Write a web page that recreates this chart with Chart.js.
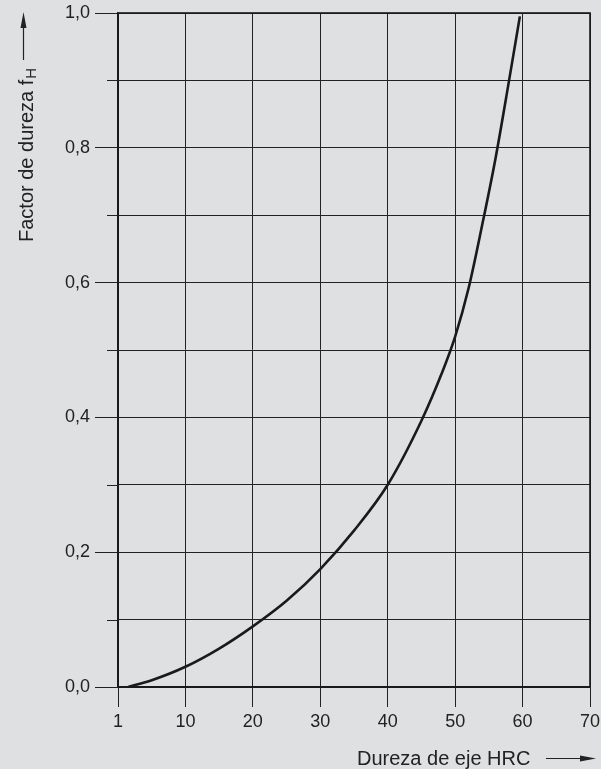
<!DOCTYPE html>
<html>
<head>
<meta charset="utf-8">
<script src="https://cdn.jsdelivr.net/npm/chart.js@4/dist/chart.umd.min.js"></script>
<style>
  html, body { margin: 0; padding: 0; background: #dfe0e2; }
  #wrap { width: 601px; height: 769px; }
</style>
</head>
<body>
<div id="wrap"><canvas id="c" width="601" height="769"></canvas></div>
<script>
// Data
const hrc    = [1.5, 5, 10, 15, 20, 25, 30, 35, 40, 45, 48, 50, 52, 54, 56, 58, 59.6];
const factor = [0, 0.01, 0.03, 0.057, 0.09, 0.128, 0.175, 0.232, 0.30, 0.395, 0.465, 0.52, 0.592, 0.685, 0.785, 0.9, 0.995];
const xTickLabels = ['1', '10', '20', '30', '40', '50', '60', '70'];
const yTickLabels = ['0,0', '0,2', '0,4', '0,6', '0,8', '1,0'];
const xTitle = 'Dureza de eje HRC';
const yTitle = 'Factor de dureza f';
const yTitleSub = 'H';

const INK = '#222222';
const FONT = '"Liberation Sans", Arial, sans-serif';

const points = hrc.map((x, i) => ({ x: x, y: factor[i] }));

const decor = {
  id: 'decor',
  beforeDraw(chart) {
    const ctx = chart.ctx;
    ctx.save();
    ctx.fillStyle = '#dfe0e2';
    ctx.fillRect(0, 0, chart.width, chart.height);
    ctx.restore();
  },
  afterDatasetsDraw(chart) {
    const ctx = chart.ctx;
    const a = chart.chartArea;
    ctx.save();
    ctx.strokeStyle = '#1a1a1a';
    ctx.lineWidth = 1.6;
    ctx.strokeRect(Math.round(a.left), Math.round(a.top), Math.round(a.right) - Math.round(a.left), Math.round(a.bottom) - Math.round(a.top));
    ctx.restore();
  },
  afterDraw(chart) {
    const ctx = chart.ctx;
    const area = chart.chartArea;
    const ys = chart.scales.y;
    ctx.save();
    // short ticks for unlabeled y grid lines
    ctx.strokeStyle = INK;
    ctx.lineWidth = 1;
    ys.ticks.forEach((t, i) => {
      if (i % 2 === 1) {
        const py = Math.round(ys.getPixelForValue(t.value)) + 0.5;
        ctx.beginPath();
        ctx.moveTo(area.left - 11, py);
        ctx.lineTo(area.left, py);
        ctx.stroke();
      }
    });

    // X title + arrow
    ctx.fillStyle = INK;
    ctx.font = '20px ' + FONT;
    ctx.textAlign = 'left';
    ctx.textBaseline = 'alphabetic';
    ctx.fillText(xTitle, 357, 765);
    ctx.lineWidth = 1.2;
    ctx.beginPath();
    ctx.moveTo(546, 758.5);
    ctx.lineTo(584, 758.5);
    ctx.stroke();
    ctx.beginPath();
    ctx.moveTo(596, 758.5);
    ctx.lineTo(580, 755.5);
    ctx.lineTo(580, 761.5);
    ctx.closePath();
    ctx.fill();

    // Y title (rotated) + arrow
    ctx.save();
    ctx.translate(33, 242);
    ctx.rotate(-Math.PI / 2);
    ctx.font = '20px ' + FONT;
    ctx.fillText(yTitle, 0, 0);
    const w = ctx.measureText(yTitle).width;
    ctx.font = '15px ' + FONT;
    ctx.fillText(yTitleSub, w + 1, 3);
    ctx.restore();
    ctx.beginPath();
    ctx.moveTo(23.5, 60);
    ctx.lineTo(23.5, 24);
    ctx.stroke();
    ctx.beginPath();
    ctx.moveTo(23.5, 12);
    ctx.lineTo(20.5, 28);
    ctx.lineTo(26.5, 28);
    ctx.closePath();
    ctx.fill();
    ctx.restore();
  }
};

new Chart(document.getElementById('c'), {
  type: 'line',
  data: {
    datasets: [{
      data: points,
      borderColor: '#1a1a1a',
      borderWidth: 2.6,
      pointRadius: 0,
      fill: false,
      cubicInterpolationMode: 'monotone'
    }]
  },
  options: {
    responsive: false,
    animation: false,
    devicePixelRatio: 1,
    layout: { padding: { top: 13, right: 11, left: 0, bottom: 0 } },
    plugins: { legend: { display: false }, tooltip: { enabled: false } },
    scales: {
      x: {
        type: 'linear',
        min: 0, max: 70,
        afterFit(s) { s.height = 82; s.paddingLeft = 0; s.paddingRight = 0; },
        afterBuildTicks(s) { s.ticks = xTickLabels.map((_, i) => ({ value: i * 10 })); },
        ticks: {
          callback: (v, i) => xTickLabels[i],
          color: INK,
          font: { family: FONT, size: 18 },
          padding: 4,
          maxRotation: 0,
          autoSkip: false
        },
        grid: { color: INK, lineWidth: 1, tickLength: 20, tickColor: INK },
        border: { color: INK, width: 1.5 }
      },
      y: {
        type: 'linear',
        min: 0, max: 1,
        afterFit(s) { s.width = 118; s.paddingTop = 0; s.paddingBottom = 0; },
        afterBuildTicks(s) {
          const t = [];
          for (let i = 0; i <= 10; i++) t.push({ value: i / 10 });
          s.ticks = t;
        },
        ticks: {
          callback: (v, i) => (i % 2 === 0 ? yTickLabels[i / 2] : ''),
          color: INK,
          font: { family: FONT, size: 18 },
          padding: 5,
          autoSkip: false
        },
        grid: {
          color: INK,
          lineWidth: 1,
          tickLength: 23,
          tickColor: (c) => (c.index % 2 === 0 ? INK : 'rgba(0,0,0,0)')
        },
        border: { color: INK, width: 1.5 }
      }
    }
  },
  plugins: [decor]
});
</script>
</body>
</html>
